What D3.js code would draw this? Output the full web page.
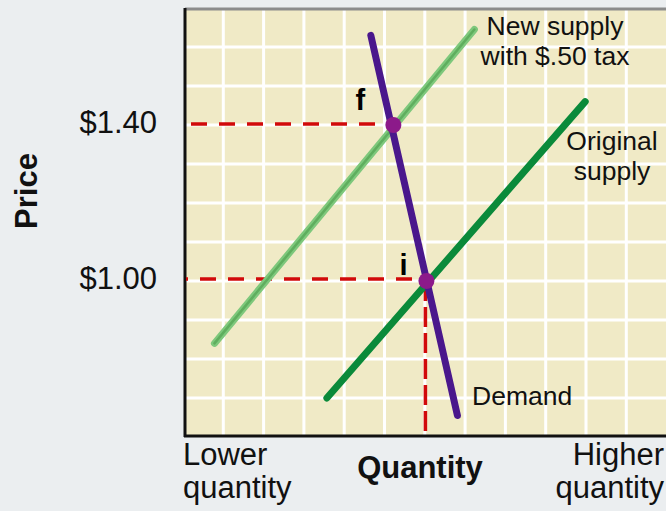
<!DOCTYPE html>
<html>
<head>
<meta charset="utf-8">
<script src="https://cdn.jsdelivr.net/npm/d3@7"></script>
<style>
  body { margin: 0; background: #ebeef0; }
  svg { display: block; font-family: "Liberation Sans", Arial, sans-serif; }
</style>
</head>
<body>
<div id="chart"></div>
<script>
// grid in quantity units and price
const gridQuantities = d3.range(1, 12);
const gridPrices = [0.7, 0.8, 0.9, 1.0, 1.1, 1.2, 1.3, 1.4, 1.5, 1.6];

// labelled prices on the y axis
const priceTicks = [1.0, 1.4];
const priceLabels = ["$1.00", "$1.40"];

// curves: [quantity, price] end points
const demand = [[4.66, 1.63], [6.81, 0.655]];
const originalSupply = [[3.57, 0.70], [9.98, 1.46]];
const newSupply = [[0.78, 0.84], [7.23, 1.645]];

// equilibrium points
const pointNames = ["f", "i"];
const pointQuantities = [5.22, 6.04];
const pointPrices = [1.40, 1.00];

const width = 666, height = 511;
const plot = { left: 185, right: 666, top: 9, bottom: 436 };

const x = d3.scaleLinear().domain([0, 12]).range([183, 666.6]);
const y = d3.scaleLinear().domain([0.6, 1.7]).range([437, 8]);

const svg = d3.select("#chart").append("svg")
    .attr("width", width)
    .attr("height", height);

svg.append("rect")
    .attr("width", width).attr("height", height)
    .attr("fill", "#ebeef0");

svg.append("rect")
    .attr("x", plot.left).attr("y", plot.top)
    .attr("width", plot.right - plot.left)
    .attr("height", plot.bottom - plot.top)
    .attr("fill", "#f0eac6");

// grid
const grid = svg.append("g").attr("stroke", "#ffffff").attr("stroke-width", 3);
grid.selectAll("line.v")
    .data(gridQuantities)
    .join("line")
    .attr("class", "v")
    .attr("x1", d => x(d)).attr("x2", d => x(d))
    .attr("y1", plot.top).attr("y2", plot.bottom);
grid.selectAll("line.h")
    .data(gridPrices)
    .join("line")
    .attr("class", "h")
    .attr("x1", plot.left).attr("x2", plot.right)
    .attr("y1", d => y(d)).attr("y2", d => y(d));

// frame
svg.append("line")
    .attr("x1", plot.left).attr("x2", plot.right)
    .attr("y1", plot.top).attr("y2", plot.top)
    .attr("stroke", "#8c8c8c").attr("stroke-width", 3);
svg.append("line")
    .attr("x1", plot.left).attr("x2", plot.left)
    .attr("y1", plot.top - 1).attr("y2", plot.bottom + 1)
    .attr("stroke", "#111").attr("stroke-width", 3);
svg.append("line")
    .attr("x1", plot.left - 1).attr("x2", plot.right)
    .attr("y1", plot.bottom).attr("y2", plot.bottom)
    .attr("stroke", "#111").attr("stroke-width", 3);

// dashed guide lines
const points = pointNames.map((n, i) => ({ name: n, q: pointQuantities[i], p: pointPrices[i] }));
const guides = svg.append("g").attr("stroke", "#d10a0a").attr("stroke-width", 3.5).attr("fill", "none");
guides.append("line")
    .attr("x1", 191).attr("x2", x(points[0].q))
    .attr("y1", y(points[0].p) - 1).attr("y2", y(points[0].p) - 1)
    .attr("stroke-dasharray", "16,12");
guides.append("line")
    .attr("x1", plot.left + 1).attr("x2", x(points[1].q))
    .attr("y1", y(points[1].p) - 2).attr("y2", y(points[1].p) - 2)
    .attr("stroke-dasharray", "16,12")
    .attr("stroke-dashoffset", 14);
guides.append("line")
    .attr("x1", x(points[1].q) - 1).attr("x2", x(points[1].q) - 1)
    .attr("y1", y(points[1].p)).attr("y2", plot.bottom - 1)
    .attr("stroke-dasharray", "20,6");

const line = d3.line().x(d => x(d[0])).y(d => y(d[1]));

// curves
svg.append("path").datum(newSupply)
    .attr("d", line).attr("fill", "none")
    .attr("stroke", "#7ec87c").attr("stroke-width", 7).attr("stroke-linecap", "round");
svg.append("path").datum(newSupply)
    .attr("d", line).attr("fill", "none")
    .attr("stroke", "#5fae5e").attr("stroke-width", 2.5).attr("stroke-linecap", "round");
svg.append("path").datum(originalSupply)
    .attr("d", line).attr("fill", "none")
    .attr("stroke", "#0a8a3a").attr("stroke-width", 7).attr("stroke-linecap", "round");
svg.append("path").datum(demand)
    .attr("d", line).attr("fill", "none")
    .attr("stroke", "#4a178c").attr("stroke-width", 7).attr("stroke-linecap", "round");

svg.append("g").selectAll("circle")
    .data(points)
    .join("circle")
    .attr("cx", d => x(d.q)).attr("cy", d => y(d.p))
    .attr("r", 8)
    .attr("fill", "#8c1a8a");

// point labels
svg.append("text").text("f")
    .attr("x", x(points[0].q) - 33).attr("y", y(points[0].p) - 15)
    .attr("font-size", 29).attr("font-weight", "bold").attr("text-anchor", "middle");
svg.append("text").text("i")
    .attr("x", x(points[1].q) - 23).attr("y", y(points[1].p) - 6)
    .attr("font-size", 29).attr("font-weight", "bold").attr("text-anchor", "middle");

// y tick labels
svg.append("g").selectAll("text")
    .data(priceTicks)
    .join("text")
    .attr("x", 157)
    .attr("y", d => y(d) + 8)
    .attr("text-anchor", "end")
    .attr("font-size", 31)
    .attr("fill", "#111")
    .text((d, i) => priceLabels[i]);

// curve labels
const label = (lines, cx, y0, dy, anchor, size) => {
    const t = svg.append("text")
        .attr("font-size", size).attr("fill", "#111").attr("text-anchor", anchor);
    lines.forEach((s, i) => t.append("tspan").attr("x", cx).attr("y", y0 + i * dy).text(s));
};
label(["New supply", "with $.50 tax"], 555, 35, 30, "middle", 26.5);
label(["Original", "supply"], 612, 150, 30, "middle", 26.5);
label(["Demand"], 472, 405, 0, "start", 26.5);

// axis titles
label(["Lower", "quantity"], 183, 465, 33, "start", 31);
label(["Higher", "quantity"], 664, 465, 33, "end", 31);

svg.append("text").text("Quantity")
    .attr("x", 420).attr("y", 478)
    .attr("text-anchor", "middle")
    .attr("font-size", 31).attr("font-weight", "bold").attr("fill", "#111");

svg.append("text").text("Price")
    .attr("transform", "translate(37,191) rotate(-90)")
    .attr("text-anchor", "middle")
    .attr("font-size", 31).attr("font-weight", "bold").attr("fill", "#111");
</script>
</body>
</html>
